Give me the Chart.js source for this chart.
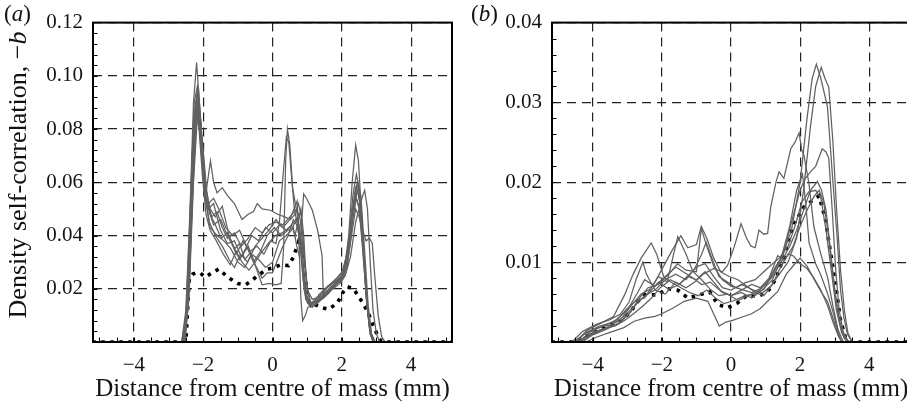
<!DOCTYPE html>
<html><head><meta charset="utf-8">
<script src="https://cdn.jsdelivr.net/npm/chart.js@4"></script>
<style>
html,body{margin:0;padding:0;background:#fff;overflow:hidden;width:907px;height:406px;}
#wrap{position:relative;width:907px;height:406px;overflow:hidden;}
canvas{position:absolute;top:0;}
#ca{left:0;}
#cb{left:460px;}
.lab{position:absolute;font-family:"Liberation Serif","Times New Roman",serif;color:#111;font-size:23px;white-space:nowrap;line-height:1;}
#yt{left:18px;top:175px;font-size:26px;transform:translate(-50%,-50%) rotate(-90deg);}
</style></head><body>
<div id="wrap">
<canvas id="ca" width="460" height="406"></canvas>
<canvas id="cb" width="460" height="406"></canvas>
<div class="lab" style="left:4px;top:2px;">(<i>a</i>)</div>
<div class="lab" style="left:471px;top:2px;">(<i>b</i>)</div>
<div class="lab" id="yt">Density self-correlation, −<i>b</i></div>
</div>
<script>
// ---------- axis definitions ----------
const X_MIN = -5.18, X_MAX = 5.18;
const X_TICKS = [-4, -2, 0, 2, 4];
const X_LABELS = ['\u22124', '\u22122', '0', '2', '4'];
const X_MINOR = [-5, -4.5, -4, -3.5, -3, -2.5, -2, -1.5, -1, -0.5, 0, 0.5, 1, 1.5, 2, 2.5, 3, 3.5, 4, 4.5, 5];
const X_TITLE = 'Distance from centre of mass (mm)';

const YA_MAX = 0.12;
const YA_TICKS = [0.02, 0.04, 0.06, 0.08, 0.10, 0.12];
const YA_LABELS = ['0.02', '0.04', '0.06', '0.08', '0.10', '0.12'];
const YA_MINOR = [0.004,0.008,0.012,0.016,0.02,0.024,0.028,0.032,0.036,0.04,0.044,0.048,0.052,0.056,0.06,0.064,0.068,0.072,0.076,0.08,0.084,0.088,0.092,0.096,0.1,0.104,0.108,0.112,0.116];

const YB_MAX = 0.04;
const YB_TICKS = [0.01, 0.02, 0.03, 0.04];
const YB_LABELS = ['0.01', '0.02', '0.03', '0.04'];
const YB_MINOR = [0.002,0.004,0.006,0.008,0.01,0.012,0.014,0.016,0.018,0.02,0.022,0.024,0.026,0.028,0.03,0.032,0.034,0.036,0.038];

// ---------- panel (a) series: [x (mm), -b] ----------
const a1 = [[-5.2,0],[-2.62,0],[-2.5,0.012],[-2.38,0.05],[-2.28,0.09],[-2.19,0.105],[-2.1,0.088],[-2.0,0.066],[-1.9,0.054],[-1.75,0.047],[-1.6,0.049],[-1.45,0.043],[-1.3,0.039],[-1.1,0.041],[-0.9,0.036],[-0.7,0.039],[-0.5,0.043],[-0.3,0.041],[-0.1,0.044],[0.1,0.045],[0.3,0.044],[0.5,0.047],[0.7,0.05],[0.8,0.046],[0.9,0.033],[1.0,0.02],[1.1,0.015],[1.3,0.015],[1.5,0.018],[1.7,0.021],[1.9,0.023],[2.05,0.025],[2.2,0.035],[2.35,0.052],[2.45,0.06],[2.55,0.052],[2.65,0.03],[2.75,0.012],[2.85,0.003],[2.95,0],[5.2,0]];
const a2 = [[-5.2,0],[-2.6,0],[-2.48,0.012],[-2.36,0.05],[-2.26,0.083],[-2.18,0.092],[-2.1,0.08],[-2.0,0.064],[-1.92,0.056],[-1.79,0.068],[-1.7,0.06],[-1.6,0.056],[-1.45,0.058],[-1.3,0.055],[-1.1,0.052],[-0.88,0.046],[-0.7,0.048],[-0.55,0.049],[-0.44,0.052],[-0.3,0.05],[-0.06,0.0495],[0.15,0.048],[0.35,0.047],[0.52,0.046],[0.65,0.048],[0.75,0.052],[0.83,0.047],[0.92,0.032],[1.02,0.019],[1.15,0.016],[1.35,0.017],[1.6,0.021],[1.85,0.024],[2.05,0.027],[2.2,0.037],[2.32,0.055],[2.42,0.063],[2.5,0.058],[2.6,0.04],[2.7,0.018],[2.8,0.005],[2.9,0],[5.2,0]];
const a3 = [[-5.2,0],[-2.58,0],[-2.45,0.015],[-2.33,0.055],[-2.24,0.088],[-2.16,0.095],[-2.06,0.082],[-1.96,0.06],[-1.85,0.05],[-1.7,0.044],[-1.5,0.046],[-1.3,0.04],[-1.1,0.035],[-0.95,0.037],[-0.8,0.031],[-0.63,0.0336],[-0.45,0.027],[-0.3,0.0215],[-0.1,0.022],[0.1,0.0215],[0.25,0.022],[0.32,0.035],[0.38,0.068],[0.43,0.08],[0.5,0.074],[0.58,0.058],[0.66,0.052],[0.75,0.045],[0.85,0.036],[0.93,0.022],[1.02,0.015],[1.15,0.013],[1.35,0.016],[1.6,0.019],[1.85,0.022],[2.05,0.025],[2.2,0.04],[2.3,0.06],[2.4,0.074],[2.48,0.068],[2.56,0.05],[2.65,0.03],[2.75,0.012],[2.85,0.003],[2.95,0],[5.2,0]];
const a4 = [[-5.2,0],[-2.55,0],[-2.42,0.015],[-2.3,0.06],[-2.2,0.09],[-2.13,0.094],[-2.03,0.075],[-1.93,0.058],[-1.8,0.05],[-1.65,0.047],[-1.45,0.051],[-1.25,0.04],[-1.05,0.033],[-0.85,0.038],[-0.65,0.034],[-0.45,0.036],[-0.25,0.033],[-0.05,0.038],[0.1,0.037],[0.2,0.045],[0.3,0.062],[0.4,0.077],[0.47,0.075],[0.55,0.062],[0.63,0.05],[0.72,0.044],[0.8,0.04],[0.88,0.03],[0.97,0.018],[1.1,0.014],[1.3,0.016],[1.55,0.02],[1.8,0.023],[2.0,0.026],[2.15,0.033],[2.28,0.048],[2.4,0.058],[2.5,0.055],[2.6,0.04],[2.7,0.02],[2.8,0.006],[2.9,0],[5.2,0]];
const a5 = [[-5.2,0],[-2.6,0],[-2.46,0.012],[-2.34,0.05],[-2.24,0.08],[-2.15,0.088],[-2.05,0.07],[-1.95,0.056],[-1.85,0.052],[-1.7,0.054],[-1.55,0.05],[-1.35,0.043],[-1.15,0.04],[-0.95,0.042],[-0.75,0.036],[-0.55,0.03],[-0.35,0.034],[-0.15,0.04],[0.05,0.043],[0.25,0.04],[0.45,0.042],[0.6,0.043],[0.7,0.036],[0.78,0.032],[0.84,0.045],[0.9,0.0556],[0.98,0.054],[1.15,0.0495],[1.3,0.042],[1.43,0.0325],[1.47,0.0165],[1.6,0.018],[1.8,0.021],[2.0,0.024],[2.15,0.03],[2.28,0.045],[2.4,0.055],[2.5,0.05],[2.6,0.035],[2.72,0.015],[2.82,0.004],[2.92,0],[5.2,0]];
const a6 = [[-5.2,0],[-2.57,0],[-2.44,0.014],[-2.32,0.052],[-2.22,0.082],[-2.14,0.09],[-2.04,0.074],[-1.94,0.055],[-1.82,0.045],[-1.65,0.04],[-1.45,0.036],[-1.25,0.031],[-1.1,0.028],[-0.92,0.033],[-0.72,0.03],[-0.5,0.036],[-0.3,0.039],[-0.1,0.042],[0.1,0.046],[0.3,0.043],[0.5,0.046],[0.62,0.05],[0.71,0.053],[0.77,0.035],[0.82,0.016],[0.87,0.008],[0.95,0.01],[1.02,0.013],[1.15,0.014],[1.35,0.018],[1.6,0.021],[1.85,0.023],[2.05,0.026],[2.2,0.035],[2.33,0.05],[2.45,0.057],[2.55,0.05],[2.63,0.035],[2.72,0.015],[2.82,0.003],[2.9,0],[5.2,0]];
const a7 = [[-5.2,0],[-2.62,0],[-2.5,0.01],[-2.4,0.04],[-2.3,0.075],[-2.2,0.088],[-2.12,0.08],[-2.02,0.062],[-1.92,0.048],[-1.8,0.042],[-1.62,0.038],[-1.42,0.033],[-1.22,0.029],[-1.05,0.034],[-0.88,0.03],[-0.68,0.027],[-0.5,0.03],[-0.3,0.034],[-0.12,0.037],[0.08,0.04],[0.28,0.041],[0.48,0.043],[0.62,0.045],[0.72,0.047],[0.8,0.04],[0.88,0.026],[0.97,0.016],[1.1,0.013],[1.3,0.015],[1.55,0.018],[1.8,0.021],[2.0,0.024],[2.15,0.028],[2.28,0.04],[2.4,0.05],[2.5,0.047],[2.6,0.042],[2.7,0.038],[2.8,0.039],[2.88,0.037],[2.95,0.025],[3.05,0.01],[3.15,0.002],[3.25,0],[5.2,0]];
const a8 = [[-5.2,0],[-2.55,0],[-2.43,0.014],[-2.32,0.05],[-2.22,0.08],[-2.12,0.086],[-2.02,0.07],[-1.92,0.052],[-1.8,0.043],[-1.6,0.04],[-1.4,0.038],[-1.2,0.035],[-1.0,0.03],[-0.8,0.028],[-0.6,0.033],[-0.4,0.031],[-0.2,0.028],[0.0,0.03],[0.2,0.038],[0.4,0.04],[0.55,0.042],[0.68,0.046],[0.76,0.044],[0.84,0.03],[0.92,0.019],[1.05,0.014],[1.25,0.015],[1.5,0.018],[1.75,0.02],[1.95,0.022],[2.1,0.025],[2.25,0.032],[2.4,0.045],[2.5,0.05],[2.58,0.054],[2.66,0.057],[2.74,0.05],[2.82,0.03],[2.9,0.012],[3.0,0.003],[3.1,0],[5.2,0]];
const a9 = [[-5.2,0],[-2.6,0],[-2.47,0.012],[-2.36,0.055],[-2.26,0.09],[-2.17,0.096],[-2.07,0.08],[-1.97,0.058],[-1.85,0.05],[-1.7,0.052],[-1.5,0.042],[-1.3,0.037],[-1.1,0.038],[-0.9,0.032],[-0.7,0.036],[-0.5,0.029],[-0.3,0.024],[-0.15,0.026],[0.0,0.026],[0.15,0.031],[0.3,0.036],[0.45,0.04],[0.6,0.046],[0.7,0.044],[0.8,0.038],[0.88,0.024],[0.96,0.016],[1.1,0.014],[1.3,0.017],[1.55,0.019],[1.8,0.022],[2.0,0.025],[2.15,0.03],[2.3,0.045],[2.42,0.054],[2.52,0.05],[2.62,0.033],[2.72,0.014],[2.82,0.003],[2.92,0],[5.2,0]];
const a10 = [[-5.2,0],[-2.52,0],[-2.4,0.02],[-2.28,0.06],[-2.18,0.082],[-2.1,0.085],[-2.0,0.072],[-1.9,0.057],[-1.8,0.048],[-1.65,0.044],[-1.48,0.039],[-1.3,0.041],[-1.12,0.036],[-0.95,0.031],[-0.78,0.035],[-0.6,0.04],[-0.4,0.038],[-0.2,0.043],[0.0,0.041],[0.2,0.044],[0.4,0.042],[0.55,0.044],[0.65,0.04],[0.75,0.046],[0.82,0.05],[0.9,0.04],[0.98,0.022],[1.08,0.015],[1.25,0.014],[1.5,0.017],[1.75,0.021],[2.0,0.023],[2.12,0.026],[2.25,0.038],[2.38,0.055],[2.46,0.06],[2.55,0.055],[2.65,0.036],[2.76,0.014],[2.86,0.003],[2.96,0],[5.2,0]];
const aDotted = [[-5.2,0],[-2.5,0],[-2.44,0.015],[-2.4,0.024],[-2.3,0.0255],[-2.2,0.026],[-2.1,0.026],[-1.93,0.0244],[-1.75,0.026],[-1.55,0.0274],[-1.35,0.025],[-1.21,0.0237],[-1.0,0.022],[-0.78,0.0215],[-0.6,0.023],[-0.43,0.025],[-0.15,0.0274],[0.05,0.028],[0.23,0.029],[0.46,0.0287],[0.61,0.032],[0.76,0.038],[0.86,0.0336],[0.95,0.024],[1.04,0.015],[1.24,0.014],[1.45,0.0128],[1.62,0.0123],[1.87,0.0146],[2.05,0.019],[2.16,0.0208],[2.34,0.02],[2.54,0.016],[2.74,0.0116],[2.93,0.0055],[3.05,0.002],[3.12,0.0006],[3.2,0],[5.2,0]];

// ---------- panel (b) series ----------
const b1 = [[-5.2,0],[-4.5,0],[-4.2,0.0012],[-3.8,0.002],[-3.4,0.0025],[-3.0,0.004],[-2.7,0.0062],[-2.5,0.0078],[-2.2,0.007],[-1.9,0.0082],[-1.6,0.0094],[-1.35,0.0087],[-1.1,0.008],[-0.85,0.0072],[-0.6,0.0075],[-0.3,0.0064],[0.0,0.0058],[0.3,0.0062],[0.6,0.0055],[0.9,0.0065],[1.2,0.0078],[1.5,0.011],[1.75,0.014],[2.0,0.02],[2.2,0.028],[2.35,0.033],[2.47,0.0348],[2.6,0.033],[2.79,0.0295],[2.95,0.02],[3.07,0.0132],[3.17,0.0065],[3.27,0.003],[3.37,0.001],[3.5,0],[5.2,0]];
const b2 = [[-5.2,0],[-4.4,0],[-4.1,0.0008],[-3.7,0.0015],[-3.3,0.0022],[-2.95,0.0035],[-2.7,0.005],[-2.4,0.006],[-2.1,0.0075],[-1.8,0.0066],[-1.5,0.0072],[-1.2,0.0085],[-0.95,0.0095],[-0.75,0.0098],[-0.5,0.0082],[-0.25,0.0068],[0.0,0.0065],[0.3,0.0072],[0.6,0.0066],[0.9,0.0061],[1.15,0.007],[1.4,0.0085],[1.65,0.01],[1.9,0.013],[2.1,0.019],[2.3,0.027],[2.45,0.032],[2.61,0.0344],[2.72,0.033],[2.83,0.0319],[2.95,0.025],[3.05,0.017],[3.17,0.009],[3.28,0.004],[3.38,0.0012],[3.5,0],[5.2,0]];
const b3 = [[-5.2,0],[-4.6,0],[-4.3,0.0013],[-3.9,0.0022],[-3.5,0.0028],[-3.2,0.0035],[-2.95,0.005],[-2.75,0.0078],[-2.55,0.01],[-2.45,0.0085],[-2.2,0.0065],[-1.9,0.006],[-1.6,0.0075],[-1.3,0.0068],[-1.05,0.0075],[-0.8,0.0085],[-0.5,0.0092],[-0.25,0.0088],[-0.1,0.0096],[0.1,0.012],[0.29,0.0148],[0.45,0.013],[0.58,0.012],[0.7,0.0118],[0.81,0.014],[0.95,0.0135],[1.06,0.0136],[1.15,0.0169],[1.3,0.02],[1.39,0.0213],[1.53,0.0205],[1.73,0.0242],[1.85,0.025],[1.97,0.0262],[2.05,0.024],[2.11,0.0234],[2.25,0.02],[2.4,0.0144],[2.6,0.011],[2.8,0.008],[2.95,0.0045],[3.1,0.0015],[3.25,0],[5.2,0]];
const b4 = [[-5.2,0],[-4.35,0],[-4.05,0.001],[-3.6,0.0018],[-3.2,0.0028],[-2.9,0.0045],[-2.6,0.006],[-2.35,0.0066],[-2.1,0.0082],[-1.85,0.0075],[-1.54,0.0132],[-1.3,0.011],[-1.1,0.0088],[-0.85,0.0078],[-0.6,0.0066],[-0.35,0.0058],[-0.1,0.006],[0.2,0.0052],[0.5,0.0058],[0.8,0.0064],[1.05,0.0075],[1.3,0.0095],[1.5,0.0108],[1.75,0.015],[2.0,0.019],[2.15,0.0205],[2.3,0.0213],[2.45,0.022],[2.64,0.0242],[2.75,0.0238],[2.83,0.023],[2.93,0.0165],[3.03,0.009],[3.13,0.004],[3.25,0.0012],[3.4,0],[5.2,0]];
const b5 = [[-5.2,0],[-4.5,0],[-4.15,0.0015],[-3.75,0.0024],[-3.4,0.0032],[-3.08,0.0059],[-2.83,0.0085],[-2.6,0.0105],[-2.31,0.0124],[-2.15,0.011],[-1.95,0.0082],[-1.7,0.0074],[-1.45,0.0068],[-1.2,0.0062],[-0.95,0.0058],[-0.7,0.0065],[-0.45,0.0055],[-0.2,0.0048],[0.1,0.0052],[0.4,0.0058],[0.7,0.006],[0.95,0.0066],[1.2,0.0085],[1.45,0.0105],[1.7,0.0145],[1.9,0.019],[2.07,0.021],[2.17,0.017],[2.26,0.0124],[2.45,0.0098],[2.6,0.0084],[2.8,0.006],[2.97,0.0035],[3.1,0.0012],[3.2,0],[5.2,0]];
const b6 = [[-5.2,0],[-4.3,0],[-4.0,0.0009],[-3.6,0.0016],[-3.2,0.0025],[-2.9,0.0038],[-2.65,0.0055],[-2.4,0.0068],[-2.1,0.0072],[-1.8,0.0085],[-1.55,0.0098],[-1.3,0.009],[-1.0,0.0088],[-0.86,0.0142],[-0.7,0.012],[-0.5,0.0095],[-0.25,0.0078],[0.0,0.007],[0.3,0.0066],[0.6,0.0062],[0.9,0.0068],[1.2,0.0082],[1.45,0.01],[1.7,0.012],[1.9,0.014],[2.1,0.0165],[2.3,0.019],[2.5,0.0201],[2.62,0.019],[2.75,0.0165],[2.88,0.0115],[3.0,0.0065],[3.12,0.003],[3.25,0.0008],[3.4,0],[5.2,0]];
const b7 = [[-5.2,0],[-4.2,0],[-3.9,0.0006],[-3.5,0.0012],[-3.1,0.0018],[-2.8,0.0026],[-2.5,0.003],[-2.2,0.0032],[-2.02,0.0035],[-1.7,0.0042],[-1.35,0.0051],[-1.0,0.0055],[-0.67,0.0051],[-0.5,0.0035],[-0.34,0.002],[-0.15,0.0025],[0.05,0.0027],[0.3,0.0031],[0.58,0.0035],[0.85,0.0042],[1.06,0.0051],[1.35,0.0063],[1.6,0.0085],[1.85,0.0098],[2.0,0.0105],[2.2,0.0095],[2.45,0.0075],[2.65,0.006],[2.79,0.0051],[2.95,0.003],[3.1,0.001],[3.2,0],[5.2,0]];
const b8 = [[-5.2,0],[-4.55,0],[-4.25,0.001],[-3.85,0.0018],[-3.45,0.0022],[-3.1,0.0032],[-2.8,0.0045],[-2.5,0.0058],[-2.2,0.0065],[-1.9,0.0078],[-1.6,0.0085],[-1.3,0.0078],[-1.05,0.0092],[-0.85,0.011],[-0.72,0.0125],[-0.55,0.0105],[-0.35,0.0082],[-0.1,0.0075],[0.15,0.0068],[0.4,0.0074],[0.7,0.0078],[0.95,0.0088],[1.2,0.0098],[1.4,0.0105],[1.65,0.012],[1.85,0.0145],[2.05,0.0175],[2.25,0.0188],[2.45,0.019],[2.6,0.018],[2.75,0.014],[2.9,0.009],[3.05,0.004],[3.2,0.0012],[3.35,0],[5.2,0]];
const b9 = [[-5.2,0],[-4.4,0],[-4.1,0.0012],[-3.7,0.002],[-3.3,0.0028],[-3.0,0.0042],[-2.75,0.0052],[-2.5,0.0055],[-2.2,0.0075],[-1.95,0.0095],[-1.7,0.0115],[-1.45,0.0133],[-1.25,0.0118],[-1.0,0.0122],[-0.86,0.0145],[-0.7,0.013],[-0.5,0.0105],[-0.3,0.0088],[-0.05,0.0082],[0.2,0.0078],[0.45,0.007],[0.7,0.0062],[0.95,0.0058],[1.2,0.0072],[1.45,0.0095],[1.65,0.011],[1.8,0.0108],[2.0,0.0098],[2.2,0.0092],[2.4,0.008],[2.6,0.0065],[2.8,0.0045],[2.95,0.0025],[3.1,0.0008],[3.2,0],[5.2,0]];
const b10 = [[-5.2,0],[-4.45,0],[-4.15,0.0009],[-3.75,0.0016],[-3.35,0.002],[-3.05,0.0028],[-2.8,0.0036],[-2.55,0.0045],[-2.3,0.0055],[-2.05,0.0068],[-1.75,0.0078],[-1.5,0.0072],[-1.25,0.0082],[-1.0,0.0078],[-0.75,0.0088],[-0.5,0.0075],[-0.25,0.0062],[0.0,0.0058],[0.3,0.0065],[0.6,0.0072],[0.85,0.0068],[1.1,0.008],[1.35,0.0108],[1.55,0.0102],[1.8,0.012],[2.0,0.0145],[2.2,0.0165],[2.4,0.0182],[2.55,0.019],[2.68,0.0175],[2.8,0.014],[2.92,0.0095],[3.05,0.005],[3.18,0.0018],[3.3,0.0004],[3.45,0],[5.2,0]];
const bDotted = [[-5.2,0],[-4.5,0],[-4.27,0.0006],[-3.94,0.0012],[-3.55,0.002],[-3.17,0.0027],[-2.88,0.0039],[-2.74,0.0049],[-2.5,0.0059],[-2.11,0.0059],[-1.87,0.0067],[-1.54,0.0065],[-1.25,0.0055],[-0.91,0.0059],[-0.62,0.0063],[-0.38,0.0047],[-0.1,0.0043],[0.19,0.0049],[0.48,0.0059],[0.77,0.0057],[1.06,0.0063],[1.3,0.0079],[1.54,0.0108],[1.82,0.0148],[2.11,0.0169],[2.35,0.0177],[2.55,0.0183],[2.74,0.0152],[2.88,0.0112],[3.03,0.0071],[3.17,0.0027],[3.31,0.0006],[3.45,0],[5.2,0]];

// ---------- styling ----------
const FONT = '"Liberation Serif","Times New Roman",serif';
const GRAY = '#616161';
const TEXT = '#151515';

const pts = arr => arr.map(([x, y]) => ({x, y}));
const grayDs = arr => ({data: pts(arr), borderColor: GRAY, borderWidth: 1.25, pointRadius: 0, fill: false, tension: 0});
const dotDs = arr => ({data: pts(arr), borderColor: '#000', borderWidth: 3.6, borderDash: [3.5, 5.5], borderCapStyle: 'butt', pointRadius: 0, fill: false, tension: 0});

const framePlugin = {
  id: 'frame',
  afterDraw(chart, args, opts) {
    const {ctx, chartArea: a, scales: {x, y}} = chart;
    ctx.save();
    ctx.strokeStyle = '#000';
    ctx.lineWidth = 1.1;
    ctx.beginPath();
    for (const v of X_MINOR) { const px = Math.round(x.getPixelForValue(v)) + 0.5; ctx.moveTo(px, a.bottom); ctx.lineTo(px, a.bottom - 4.5); }
    for (const v of opts.yMinor) { const py = Math.round(y.getPixelForValue(v)) + 0.5; ctx.moveTo(a.left, py); ctx.lineTo(a.left + 4.5, py); }
    ctx.stroke();
    ctx.lineWidth = 2;
    ctx.strokeRect(a.left, a.top, a.right - a.left, a.bottom - a.top);
    ctx.restore();
  }
};

function makeChart(id, datasets, yMax, yTicks, yLabels, yMinor, yWidth, padRight) {
  return new Chart(document.getElementById(id), {
    type: 'line',
    data: {datasets},
    plugins: [framePlugin],
    options: {
      responsive: false,
      animation: false,
      events: [],
      layout: {padding: {top: 14, right: padRight, left: 0, bottom: 0}},
      plugins: {legend: {display: false}, tooltip: {enabled: false}, frame: {yMinor}},
      scales: {
        x: {
          type: 'linear', min: X_MIN, max: X_MAX,
          afterBuildTicks: s => { s.ticks = X_TICKS.map(v => ({value: v})); },
          afterFit: s => { s.height = 64; },
          ticks: {padding: 11, color: TEXT, font: {family: FONT, size: 21}, maxRotation: 0, autoSkip: false,
                  callback: (v, i) => X_LABELS[i]},
          grid: {color: '#222', lineWidth: 1.2, drawTicks: false},
          border: {display: false, dash: [9, 6]},
          title: {display: true, text: X_TITLE, color: TEXT, font: {family: FONT, size: 25}, padding: {top: 0, bottom: 2}}
        },
        y: {
          type: 'linear', min: 0, max: yMax,
          afterBuildTicks: s => { s.ticks = yTicks.map(v => ({value: v})); },
          afterFit: s => { s.width = yWidth; },
          ticks: {padding: 10, color: TEXT, font: {family: FONT, size: 21}, autoSkip: false,
                  callback: (v, i) => yLabels[i]},
          grid: {color: '#222', lineWidth: 1.2, drawTicks: false},
          border: {display: false, dash: [9, 6]}
        }
      }
    }
  });
}

// gray curves first (drawn on top), dotted mean curve last (drawn underneath)
makeChart('ca',
  [grayDs(a1), grayDs(a2), grayDs(a3), grayDs(a4), grayDs(a5), grayDs(a6), grayDs(a7), grayDs(a8), grayDs(a9), grayDs(a10), dotDs(aDotted)],
  YA_MAX, YA_TICKS, YA_LABELS, YA_MINOR, 93, 8);
makeChart('cb',
  [grayDs(b1), grayDs(b2), grayDs(b3), grayDs(b4), grayDs(b5), grayDs(b6), grayDs(b7), grayDs(b8), grayDs(b9), grayDs(b10), dotDs(bDotted)],
  YB_MAX, YB_TICKS, YB_LABELS, YB_MINOR, 92, 10);
</script>
</body></html>
